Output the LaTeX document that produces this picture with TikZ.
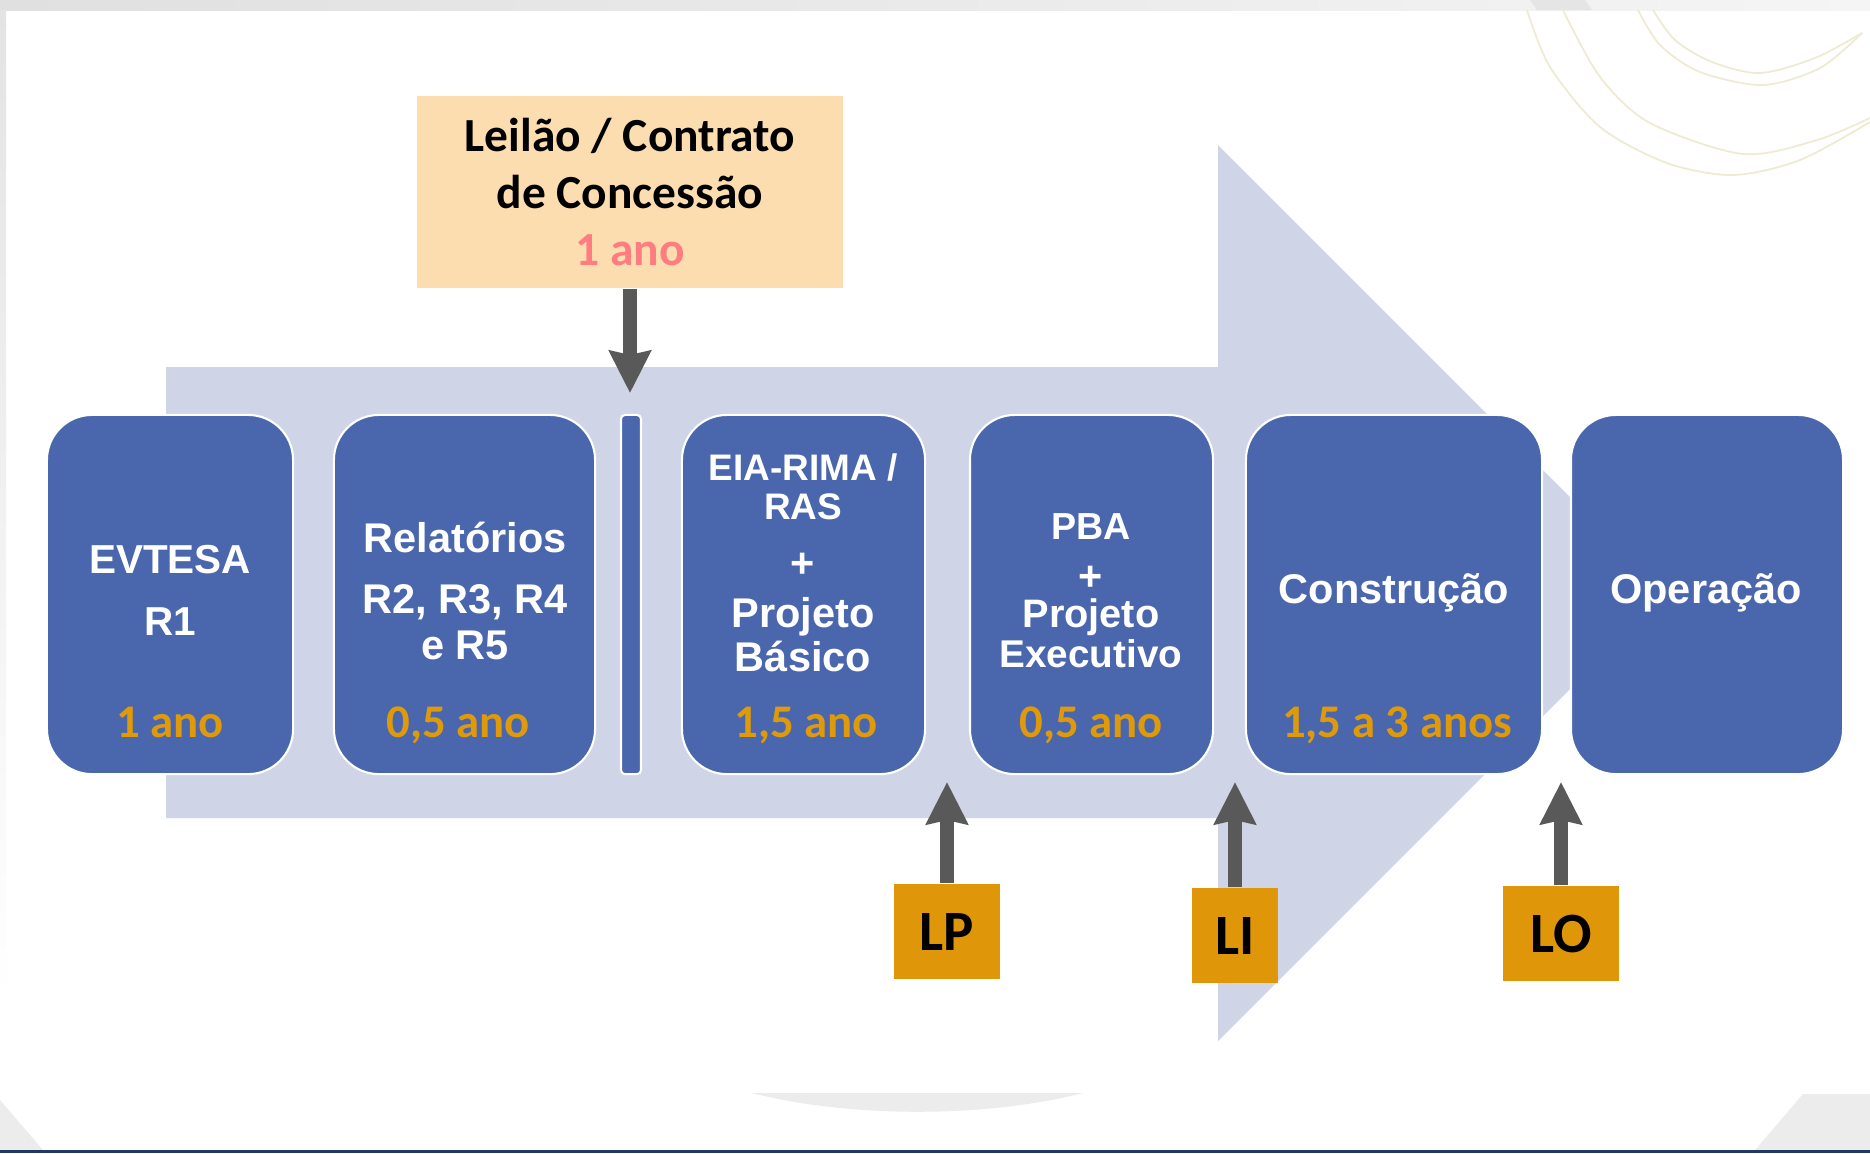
\documentclass[tikz,border=0pt]{standalone}
\usepackage{fontspec}
\setmainfont{Liberation Sans}
\newfontfamily\calibri{Carlito}
\usepackage[HTML]{xcolor}
\usetikzlibrary{positioning, arrows.meta}

\definecolor{fase}{HTML}{4A67AD}
\definecolor{seta}{HTML}{CFD4E6}
\definecolor{ouro}{HTML}{DF9A0B}
\definecolor{licenca}{HTML}{DF9709}
\definecolor{pessego}{HTML}{FCDDAF}
\definecolor{salmao}{HTML}{FF7C80}
\definecolor{cinza}{HTML}{595959}
\definecolor{marinho}{HTML}{1F3864}
\definecolor{bege}{HTML}{EEEBD2}

\begin{document}
\begin{tikzpicture}[x=0.01cm,y=-0.01cm,
  fase/.style={draw=white, line width=0.6pt, fill=fase, rounded corners=0.45cm, minimum height=3.59cm, inner sep=0pt},
  titulo/.style={text=white, font=\bfseries\fontsize{11.8}{13}\selectfont, anchor=base, inner sep=0pt},
  prazo/.style={text=ouro, font=\calibri\bfseries\fontsize{13.3}{15}\selectfont, anchor=base, inner sep=0pt},
  lic/.style={fill=licenca, minimum height=0.95cm, inner sep=0pt, font=\calibri\bfseries\fontsize{16.2}{18}\selectfont},
  larrow/.style={draw=cinza, line width=0.14cm, -{Stealth[width=0.41cm,length=0.42cm,inset=0.04cm]}}]
\useasboundingbox (0,0) rectangle (1870,1153);

% fundo do slide
\fill[white] (0,0) rectangle (1870,1153);
\shade[left color=gray!24, right color=gray!8] (0,0) rectangle (1870,10);
\fill[gray!20] (1530,0) -- (1585,0) -- (1592,10) -- (1537,10) -- cycle;
\shade[top color=gray!22, bottom color=white] (0,10) rectangle (6,1000);
\fill[gray!15] (0,1100) -- (43,1150) -- (0,1150) -- cycle;
\fill[gray!15] (1803,1094) -- (1870,1094) -- (1870,1150) -- (1755,1150) -- cycle;
\fill[gray!15] (752,1093) .. controls (850,1118) and (985,1118) .. (1083,1093) -- cycle;
\fill[marinho] (0,1150) rectangle (1870,1153);
\draw[bege, line width=0.5pt] plot[smooth] coordinates{(1527,10) (1550,67) (1600,127) (1667,163) (1733,175) (1800,160) (1870,122)};
\draw[bege, line width=0.5pt] plot[smooth] coordinates{(1563,10) (1600,77) (1650,123) (1743,154) (1817,140) (1870,118)};
\draw[bege, line width=0.5pt] plot[smooth] coordinates{(1638,10) (1660,45) (1700,72) (1763,85) (1820,68) (1862,33)};
\draw[bege, line width=0.5pt] plot[smooth] coordinates{(1653,10) (1675,40) (1712,62) (1760,73) (1815,58) (1862,33)};

% seta grande
\fill[seta] (166,367) -- (1218,367) -- (1218,145) -- (1666,593) -- (1218,1041) -- (1218,818) -- (166,818) -- cycle;

% fases
\node[fase, minimum width=2.46cm] (evtesa) at (170,594.5) {};
\node[fase, minimum width=2.61cm] (relat) at (464.5,594.5) {};
\node[fase, minimum width=0.20cm, rounded corners=0.04cm] (barra) at (631,594.5) {};
\node[fase, minimum width=2.43cm] (eia) at (803.5,594.5) {};
\node[fase, minimum width=2.43cm] (pba) at (1091.5,594.5) {};
\node[fase, minimum width=2.96cm] (constr) at (1394,594.5) {};
\node[fase, minimum width=2.72cm] (oper) at (1707,594.5) {};

\node[titulo, font=\bfseries\fontsize{11.5}{13}\selectfont] (t1a) at (170,573) {EVTESA};
\node[titulo, font=\bfseries\fontsize{11.5}{13}\selectfont] (t1b) at (170,635) {R1};
\node[prazo] (p1) at (170,737) {1 ano};

\node[titulo] (t2a) at (465,552) {Relatórios};
\node[titulo] (t2b) at (465,613) {R2, R3, R4};
\node[titulo] (t2c) at (465,659) {e R5};
\node[prazo] (p2) at (458,737) {0,5 ano};

\node[titulo, font=\bfseries\fontsize{10.5}{12}\selectfont] (t3a) at (803,480) {EIA-RIMA /};
\node[titulo, font=\bfseries\fontsize{10.5}{12}\selectfont] (t3b) at (803,519) {RAS};
\node[titulo] (t3c) at (803,577) {+};
\node[titulo] (t3d) at (803,627) {Projeto};
\node[titulo] (t3e) at (803,671) {Básico};
\node[prazo] (p3) at (806,737) {1,5 ano};

\node[titulo, font=\bfseries\fontsize{10.7}{12}\selectfont] (t4a) at (1091,539) {PBA};
\node[titulo] (t4b) at (1091,590) {+};
\node[titulo, font=\bfseries\fontsize{11.3}{13}\selectfont] (t4c) at (1091,627) {Projeto};
\node[titulo, font=\bfseries\fontsize{11}{13}\selectfont] (t4d) at (1091,667) {Executivo};
\node[prazo] (p4) at (1091,737) {0,5 ano};

\node[titulo] (t5a) at (1394,603) {Construção};
\node[prazo] (p5) at (1397,737) {1,5 a 3 anos};

\node[titulo] (t6a) at (1706,603) {Operação};

% leilao
\node[fill=pessego, minimum width=4.26cm, minimum height=1.92cm, inner sep=0pt, align=center,
  font=\calibri\bfseries\fontsize{13.5}{16.2}\selectfont] (leilao) at (630,192)
  {Leilão / Contrato\\de Concessão\\\textcolor{salmao}{1 ano}};
\coordinate (tipA) at (630,393);
\draw[larrow] (leilao.south) -- (tipA);

% licencas
\node[lic, minimum width=1.06cm] (lp) at (947,931.5) {LP};
\node[lic, minimum width=0.85cm] (li) at (1235,935.5) {LI};
\node[lic, minimum width=1.16cm] (lo) at (1561,933.5) {LO};
\coordinate (tipLP) at (947,782);
\coordinate (tipLI) at (1235,782);
\coordinate (tipLO) at (1561,782);
\draw[larrow] (lp.north) -- (tipLP);
\draw[larrow] (li.north) -- (tipLI);
\draw[larrow] (lo.north) -- (tipLO);
\end{tikzpicture}
\end{document}
